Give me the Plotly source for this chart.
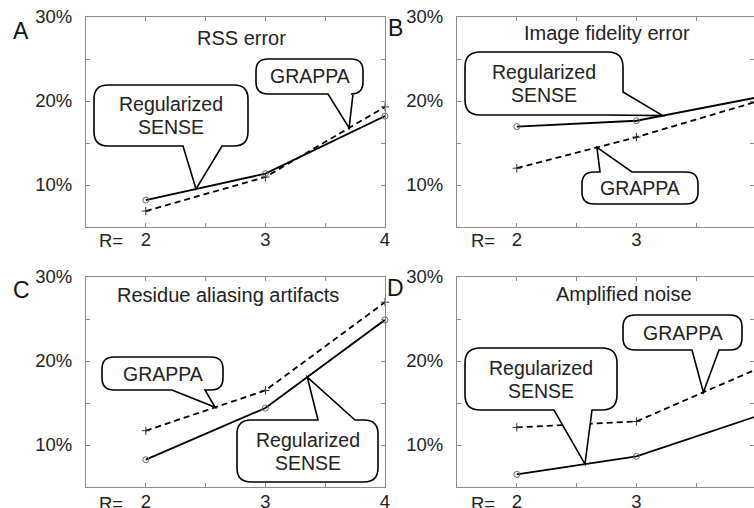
import numpy as np
import plotly.graph_objects as go

W, H = 754, 508
FONT = "Liberation Sans, Arial, Helvetica, sans-serif"
TXT = "#222222"

# ---------------- data ----------------
R = [2, 3, 4]
tick_x = [2, 2.5, 3, 3.5, 4]
tick_x_text = ["2", "", "3", "", "4"]
tick_y = [10, 15, 20, 25, 30]
tick_y_text = ["10%", "", "20%", "", "30%"]

titles = ["RSS error", "Image fidelity error", "Residue aliasing artifacts", "Amplified noise"]
letters = ["A", "B", "C", "D"]

sense_A = [8.2, 11.35, 18.2]
grappa_A = [6.9, 10.95, 19.3]
sense_B = [16.95, 17.65, 20.4]
grappa_B = [12.0, 15.7, 19.9]
sense_C = [8.25, 14.4, 24.9]
grappa_C = [11.7, 16.5, 27.0]
sense_D = [6.5, 8.65, 13.4]
grappa_D = [12.1, 12.8, 19.0]

series = {
    "A": (sense_A, grappa_A),
    "B": (sense_B, grappa_B),
    "C": (sense_C, grappa_C),
    "D": (sense_D, grappa_D),
}

# ---------------- layout geometry (pixels) ----------------
PXU = 119.6
panels = {
    "A": dict(box=(86, 385, 17, 227), xr=(1.5, 4.0), title=(241, 38), letter=(21, 31), req=(125, 240)),
    "B": dict(box=(457, 754, 17, 227), xr=(1.5, 1.5 + 297 / PXU), title=(607, 33), letter=(396, 28), req=(497, 240)),
    "C": dict(box=(86, 385, 277, 487), xr=(1.5, 4.0), title=(228, 295), letter=(21, 290), req=(125, 503)),
    "D": dict(box=(457, 754, 277, 487), xr=(1.5, 1.5 + 297 / PXU), title=(624, 294), letter=(396, 288), req=(497, 503)),
}
YR = (5, 30)


def px(xp):
    return xp / W


def py(yp):
    return 1 - yp / H


def data_to_px(key, x, y):
    x0, x1, y0, y1 = panels[key]["box"]
    a, b = panels[key]["xr"]
    X = x0 + (x - a) / (b - a) * (x1 - x0)
    Y = y1 - (y - YR[0]) / (YR[1] - YR[0]) * (y1 - y0)
    return X, Y


def P(x, y):
    return f"{px(x):.5f},{py(y):.5f}"


def bubble_path(rect, r, side, a, b, tip):
    x0, y0, x1, y1 = rect
    s = f"M {P(x0 + r, y0)} "
    if side == "top":
        s += f"L {P(a, y0)} L {P(*tip)} L {P(b, y0)} "
    s += f"L {P(x1 - r, y0)} Q {P(x1, y0)} {P(x1, y0 + r)} "
    if side == "br":
        s += f"L {P(x1, a)} L {P(*tip)} L {P(b, y1)} "
    else:
        s += f"L {P(x1, y1 - r)} Q {P(x1, y1)} {P(x1 - r, y1)} "
    if side == "bottom":
        s += f"L {P(b, y1)} L {P(*tip)} L {P(a, y1)} "
    s += f"L {P(x0 + r, y1)} Q {P(x0, y1)} {P(x0, y1 - r)} "
    s += f"L {P(x0, y0 + r)} Q {P(x0, y0)} {P(x0 + r, y0)} Z"
    return s


# bubbles: panel, which series (0 sense, 1 grappa), tip x (data), rect px, radius, side, base a, b, text lines
bubbles = [
    ("A", 0, 2.42, (94, 85, 248, 146), 14, "bottom", 183, 222, ["Regularized", "SENSE"]),
    ("A", 1, 3.70, (256, 59, 363, 94), 12, "bottom", 328, 353, ["GRAPPA"]),
    ("B", 0, 3.22, (465, 52, 623, 115), 15, "br", 92, 606, ["Regularized", "SENSE"]),
    ("B", 1, 2.67, (582, 172, 698, 204), 12, "top", 600, 632, ["GRAPPA"]),
    ("C", 1, 2.58, (102, 357, 223, 390), 12, "bottom", 172, 205, ["GRAPPA"]),
    ("C", 0, 3.35, (237, 420, 378, 482), 14, "top", 318, 355, ["Regularized", "SENSE"]),
    ("D", 0, 2.57, (465, 348, 617, 410), 15, "bottom", 554, 592, ["Regularized", "SENSE"]),
    ("D", 1, 3.56, (623, 315, 742, 350), 12, "bottom", 692, 719, ["GRAPPA"]),
]

fig = go.Figure()
layout = dict(
    width=W, height=H,
    margin=dict(l=0, r=0, t=0, b=0, pad=0, autoexpand=False),
    paper_bgcolor="white", plot_bgcolor="white",
    showlegend=False,
    font=dict(family=FONT, color=TXT),
)

annotations = []
shapes = []

for i, key in enumerate(["A", "B", "C", "D"]):
    n = "" if i == 0 else str(i + 1)
    x0, x1, y0, y1 = panels[key]["box"]
    axstyle = dict(
        showgrid=False, zeroline=False, showline=True, mirror="ticks",
        linecolor="#8a8a8a", linewidth=1, ticks="inside", ticklen=4,
        tickcolor="#8a8a8a", tickfont=dict(size=18.5, color=TXT, family=FONT),
        automargin=False,
    )
    layout["xaxis" + n] = dict(
        domain=[px(x0), px(x1)], range=list(panels[key]["xr"]),
        anchor="y" + n, tickmode="array", tickvals=tick_x, ticktext=tick_x_text,
        ticklabelstandoff=(-4 if i < 2 else -2), **axstyle)
    layout["yaxis" + n] = dict(
        domain=[py(y1), py(y0)], range=list(YR),
        anchor="x" + n, tickmode="array", tickvals=tick_y, ticktext=tick_y_text,
        ticklabelstandoff=9, **axstyle)

    s, g = series[key]
    fig.add_trace(go.Scatter(
        x=R, y=g, xaxis="x" + n, yaxis="y" + n, mode="lines+markers",
        line=dict(color="black", width=1.8, dash="6px,4px"),
        marker=dict(symbol="cross-thin-open", size=6, color="#333", line=dict(width=1, color="#333")),
        cliponaxis=False))
    fig.add_trace(go.Scatter(
        x=R, y=s, xaxis="x" + n, yaxis="y" + n, mode="lines+markers",
        line=dict(color="black", width=1.8),
        marker=dict(symbol="circle-open", size=6, color="#666", line=dict(width=1, color="#666")),
        cliponaxis=False))

    tx, ty = panels[key]["title"]
    annotations.append(dict(text=titles[i], x=px(tx), y=py(ty), xref="paper", yref="paper",
                            showarrow=False, font=dict(size=20, color=TXT, family=FONT),
                            xanchor="center", yanchor="middle"))
    lx, ly = panels[key]["letter"]
    annotations.append(dict(text=letters[i], x=px(lx), y=py(ly), xref="paper", yref="paper",
                            showarrow=False, font=dict(size=23, color="#111", family=FONT),
                            xanchor="center", yanchor="middle"))
    rx, ry = panels[key]["req"]
    annotations.append(dict(text="R=", x=px(rx), y=py(ry), xref="paper", yref="paper",
                            showarrow=False, font=dict(size=18.5, color=TXT, family=FONT),
                            xanchor="right", yanchor="middle"))

for key, which, tipx, rect, r, side, a, b, lines in bubbles:
    vals = series[key][which]
    tipy = float(np.interp(tipx, R, vals))
    tip = data_to_px(key, tipx, tipy)
    shapes.append(dict(type="path", xref="paper", yref="paper",
                       path=bubble_path(rect, r, side, a, b, tip),
                       line=dict(color="black", width=1.6), fillcolor="white", layer="above"))
    cx = (rect[0] + rect[2]) / 2
    cy = (rect[1] + rect[3]) / 2
    if len(lines) == 2:
        pos = [cy - 11.5, cy + 11.5]
    else:
        pos = [cy]
    for t, yy in zip(lines, pos):
        annotations.append(dict(text=t, x=px(cx), y=py(yy), xref="paper", yref="paper",
                                showarrow=False, font=dict(size=19.5, color=TXT, family=FONT),
                                xanchor="center", yanchor="middle"))

layout["annotations"] = annotations
layout["shapes"] = shapes
fig.update_layout(**layout)
fig.write_html("out.html", config={"displayModeBar": False},
               post_script="document.body.style.margin='0px';document.body.style.overflow='hidden';")
